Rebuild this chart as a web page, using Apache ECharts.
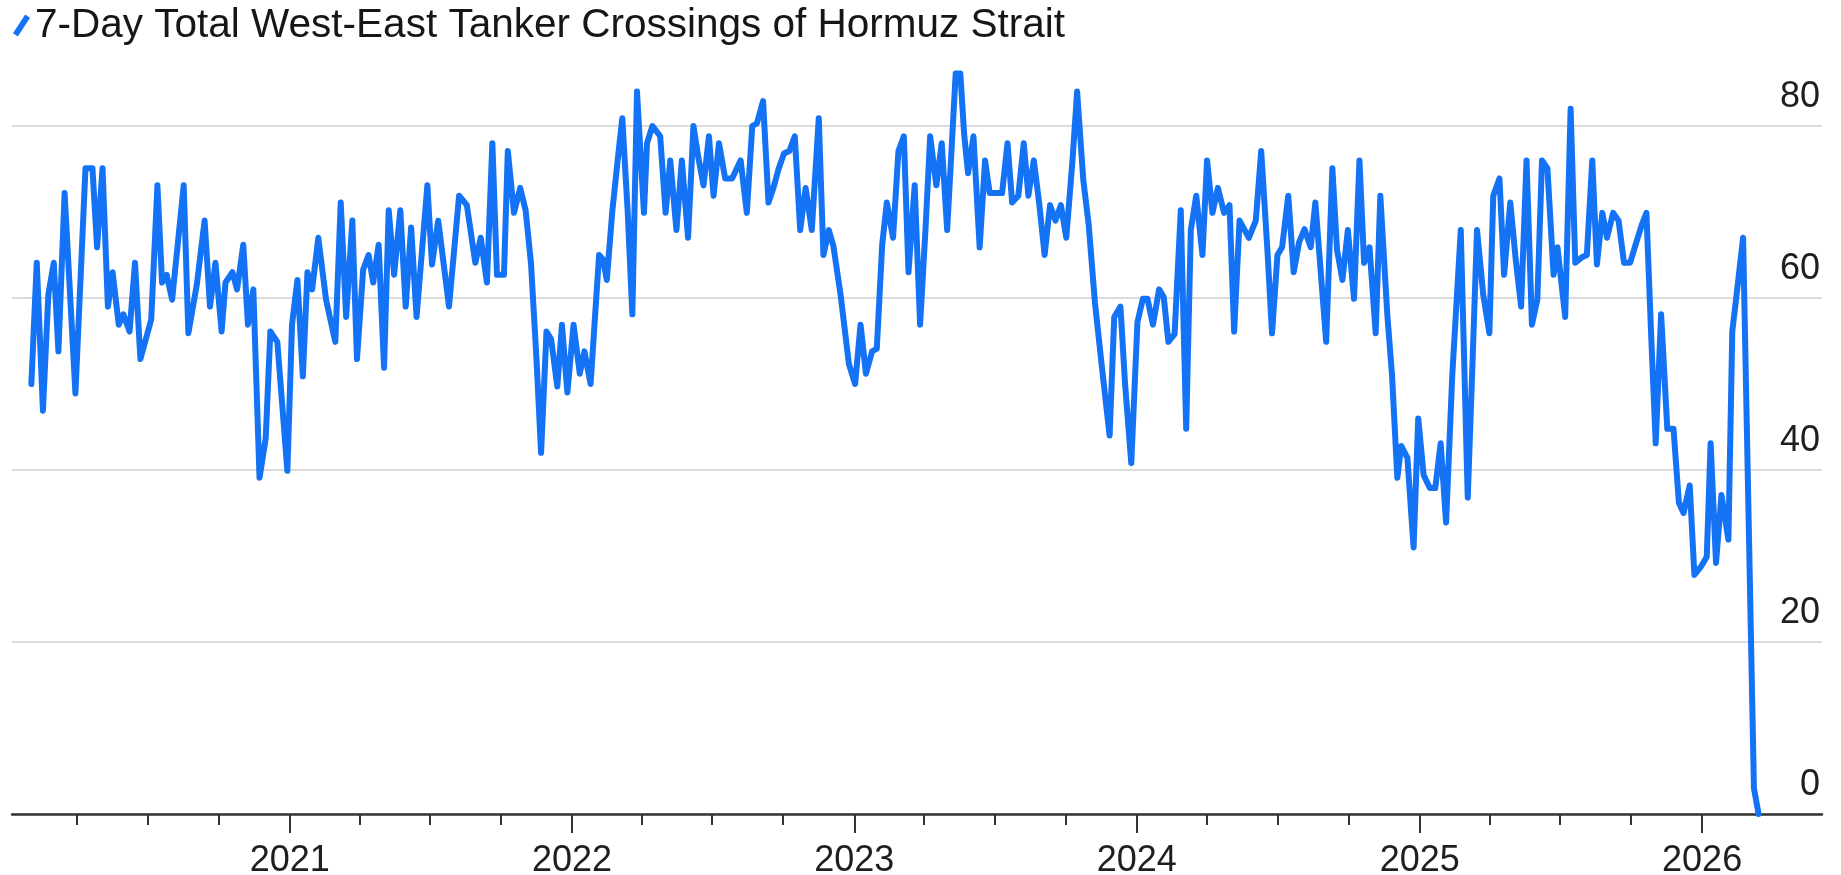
<!DOCTYPE html>
<html>
<head>
<meta charset="utf-8">
<script src="https://cdn.jsdelivr.net/npm/echarts@6/dist/echarts.min.js"></script>
<style>
  html, body { margin: 0; padding: 0; background: #ffffff; }
  #chart { width: 1841px; height: 875px; }
</style>
</head>
<body>
<div id="chart"></div>
<script>
const seriesName = '7-Day Total West-East Tanker Crossings of Hormuz Strait';

const dates = [
 '2020-02-02','2020-02-09','2020-02-17','2020-02-24','2020-03-02','2020-03-08','2020-03-16','2020-03-30','2020-04-12','2020-04-21',
 '2020-04-27','2020-05-04','2020-05-11','2020-05-17','2020-05-25','2020-05-31','2020-06-08','2020-06-15','2020-06-22','2020-07-06',
 '2020-07-14','2020-07-20','2020-07-26','2020-08-02','2020-08-17','2020-08-23','2020-09-03','2020-09-13','2020-09-20','2020-09-27',
 '2020-10-05','2020-10-10','2020-10-19','2020-10-25','2020-11-02','2020-11-08','2020-11-15','2020-11-23','2020-12-01','2020-12-07',
 '2020-12-16','2020-12-29','2021-01-04','2021-01-11','2021-01-18','2021-01-24','2021-01-30','2021-02-07','2021-02-17','2021-03-01',
 '2021-03-08','2021-03-15','2021-03-23','2021-03-29','2021-04-06','2021-04-13','2021-04-19','2021-04-26','2021-05-03','2021-05-09',
 '2021-05-16','2021-05-24','2021-05-31','2021-06-07','2021-06-14','2021-06-28','2021-07-04','2021-07-12','2021-07-26','2021-08-08',
 '2021-08-18','2021-08-29','2021-09-05','2021-09-13','2021-09-20','2021-09-26','2021-10-05','2021-10-10','2021-10-18','2021-10-26',
 '2021-11-02','2021-11-09','2021-11-16','2021-11-22','2021-11-29','2021-12-05','2021-12-13','2021-12-19','2021-12-26','2022-01-03',
 '2022-01-11','2022-01-17','2022-01-25','2022-02-05','2022-02-10','2022-02-15','2022-02-22','2022-03-01','2022-03-07','2022-03-14',
 '2022-03-20','2022-03-26','2022-04-04','2022-04-08','2022-04-15','2022-04-25','2022-05-02','2022-05-08','2022-05-16','2022-05-23',
 '2022-05-31','2022-06-07','2022-06-13','2022-06-20','2022-06-27','2022-07-03','2022-07-10','2022-07-18','2022-07-27','2022-08-07',
 '2022-08-15','2022-08-22','2022-08-28','2022-09-05','2022-09-12','2022-09-19','2022-09-25','2022-10-02','2022-10-09','2022-10-16',
 '2022-10-23','2022-10-30','2022-11-07','2022-11-16','2022-11-22','2022-11-29','2022-12-05','2022-12-14','2022-12-25','2023-01-02',
 '2023-01-09','2023-01-16','2023-01-24','2023-01-30','2023-02-06','2023-02-12','2023-02-20','2023-02-27','2023-03-06','2023-03-12',
 '2023-03-20','2023-03-27','2023-04-03','2023-04-09','2023-04-17','2023-04-24','2023-05-01','2023-05-12','2023-05-18','2023-05-23',
 '2023-05-28','2023-06-04','2023-06-12','2023-06-19','2023-06-25','2023-07-03','2023-07-11','2023-07-18','2023-07-24','2023-08-01',
 '2023-08-08','2023-08-14','2023-08-21','2023-08-28','2023-09-04','2023-09-11','2023-09-18','2023-09-25','2023-10-02','2023-10-10',
 '2023-10-16','2023-10-24','2023-10-31','2023-11-08','2023-11-17','2023-11-27','2023-12-03','2023-12-11','2023-12-17','2023-12-25',
 '2024-01-02','2024-01-09','2024-01-15','2024-01-22','2024-01-30','2024-02-05','2024-02-11','2024-02-19','2024-02-27','2024-03-05',
 '2024-03-11','2024-03-18','2024-03-26','2024-04-01','2024-04-08','2024-04-15','2024-04-23','2024-04-30','2024-05-06','2024-05-13',
 '2024-05-25','2024-06-03','2024-06-10','2024-06-18','2024-06-24','2024-07-01','2024-07-07','2024-07-15','2024-07-22','2024-07-29',
 '2024-08-05','2024-08-13','2024-08-19','2024-08-26','2024-09-02','2024-09-10','2024-09-16','2024-09-23','2024-09-30','2024-10-08',
 '2024-10-15','2024-10-21','2024-10-28','2024-11-05','2024-11-11','2024-11-20','2024-11-26','2024-12-03','2024-12-08','2024-12-16',
 '2024-12-24','2024-12-30','2025-01-06','2025-01-14','2025-01-21','2025-01-28','2025-02-04','2025-02-12','2025-02-23','2025-03-04',
 '2025-03-10','2025-03-16','2025-03-24','2025-04-01','2025-04-06','2025-04-14','2025-04-20','2025-04-28','2025-05-05','2025-05-12',
 '2025-05-19','2025-05-26','2025-06-02','2025-06-08','2025-06-15','2025-06-23','2025-06-28','2025-07-08','2025-07-15','2025-07-21',
 '2025-07-29','2025-08-05','2025-08-12','2025-08-18','2025-08-25','2025-08-31','2025-09-08','2025-09-15','2025-09-22','2025-09-30',
 '2025-10-08','2025-10-15','2025-10-21','2025-10-27','2025-11-02','2025-11-09','2025-11-17','2025-11-25','2025-12-02','2025-12-08',
 '2025-12-16','2025-12-22','2025-12-30','2026-01-07','2026-01-12','2026-01-19','2026-01-26','2026-02-04','2026-02-09','2026-02-16',
 '2026-02-23','2026-03-09','2026-03-15'
];

const crossings = [
 50.0,64.1,46.9,60.4,64.1,53.8,72.2,48.9,75.1,75.1,
 65.9,75.1,59.0,63.0,56.9,58.1,56.1,64.1,52.9,57.5,
 73.1,61.8,62.7,59.8,73.1,55.9,61.6,69.0,59.0,64.1,
 56.1,61.8,63.0,61.0,66.2,56.9,61.0,39.1,43.7,56.1,
 54.9,39.9,56.9,62.1,50.9,63.0,61.0,67.0,59.8,54.9,
 71.1,57.8,69.0,52.9,63.3,65.0,61.8,66.2,51.9,70.2,
 62.7,70.2,59.0,68.2,57.8,73.1,63.9,69.0,59.0,71.9,
 70.8,64.1,67.0,61.8,78.0,62.7,62.7,77.1,69.9,72.8,
 70.2,64.0,53.0,42.0,56.1,55.2,49.7,56.9,49.0,56.9,
 51.2,53.8,50.0,65.0,64.5,62.1,70.0,76.0,80.9,70.0,
 58.1,84.0,69.9,78.0,80.0,78.8,69.9,76.0,67.9,76.0,
 67.0,80.0,76.5,73.1,78.8,71.9,78.0,73.9,73.9,76.0,
 69.9,80.0,80.3,82.9,71.1,73.0,75.0,76.8,77.1,78.8,
 67.9,72.8,67.9,80.9,65.0,67.9,66.0,60.5,52.3,50.0,
 56.9,51.2,53.8,54.1,66.2,71.1,67.0,77.1,78.8,63.0,
 73.1,56.9,68.0,78.8,73.1,78.0,67.9,86.1,86.1,79.0,
 74.5,78.8,65.9,76.0,72.2,72.2,72.2,78.0,71.1,71.9,
 78.0,71.9,76.0,71.0,65.0,70.8,69.0,70.8,67.0,76.0,
 84.0,73.7,68.5,59.5,52.0,44.0,57.8,59.0,50.0,40.8,
 57.2,59.9,59.9,56.9,61.0,60.1,54.9,55.8,70.2,44.8,
 67.9,71.9,65.0,76.0,69.9,72.8,69.9,70.8,56.1,69.0,
 67.0,69.0,77.1,65.6,55.9,65.0,65.9,71.9,63.0,66.5,
 68.0,65.9,71.1,63.0,54.9,75.1,65.6,62.1,67.9,59.9,
 76.0,64.1,65.9,55.9,71.9,58.1,51.2,39.1,42.8,41.4,
 31.0,46.0,39.4,37.9,37.9,43.1,33.9,51.0,67.9,36.8,
 52.0,67.9,60.4,55.9,71.9,73.9,62.7,71.1,64.5,59.0,
 76.0,56.9,59.8,76.0,75.1,62.7,65.9,57.8,82.0,64.1,
 64.7,65.0,76.0,63.9,69.9,67.0,69.9,69.0,64.1,64.1,
 66.5,68.5,69.9,56.0,43.1,58.1,44.8,44.8,36.2,35.0,
 38.2,27.8,28.7,29.9,43.1,29.2,37.1,31.9,56.1,61.5,
 67.0,3.0,0
];

const yearTicks = ['2021-01-01','2022-01-01','2023-01-01','2024-01-01','2025-01-01','2026-01-01'];
const quarterTicks = [
 '2020-04-01','2020-07-01','2020-10-01',
 '2021-04-01','2021-07-01','2021-10-01',
 '2022-04-01','2022-07-01','2022-10-01',
 '2023-04-01','2023-07-01','2023-10-01',
 '2024-04-01','2024-07-01','2024-10-01',
 '2025-04-01','2025-07-01','2025-10-01'
];
const yTicks = [0, 20, 40, 60, 80];

const FONT = "'Liberation Sans', Arial, Helvetica, sans-serif";
const xMin = '2020-01-08';
const xMax = '2026-06-05';

const ts = function (s) { return Date.parse(s + 'T00:00:00Z'); };

const chart = echarts.init(document.getElementById('chart'), null, { renderer: 'canvas' });

chart.setOption({
  animation: false,
  backgroundColor: '#ffffff',
  textStyle: { fontFamily: FONT },
  legend: {
    show: true,
    left: 13,
    top: 5,
    padding: 0,
    itemWidth: 17,
    itemHeight: 26,
    itemGap: 10,
    icon: 'path://M10,0 L14,2.6 L4,18 L0,15.4 Z',
    selectedMode: false,
    textStyle: { fontSize: 40.5, color: '#161616', fontFamily: FONT }
  },
  grid: { left: 12, right: 19, top: 40, bottom: 61, containLabel: false, outerBoundsMode: 'none' },
  xAxis: [
    {
      type: 'value',
      min: ts(xMin),
      max: ts(xMax),
      position: 'bottom',
      axisLine: { show: true, onZero: false, lineStyle: { color: '#333333', width: 2.5 } },
      axisTick: { show: true, length: 11, customValues: quarterTicks.map(ts), lineStyle: { color: '#333333', width: 2 } },
      axisLabel: { show: false },
      splitLine: { show: false }
    },
    {
      type: 'value',
      min: ts(xMin),
      max: ts(xMax),
      position: 'bottom',
      axisLine: { show: false, onZero: false },
      axisTick: { show: true, length: 19, customValues: yearTicks.map(ts), lineStyle: { color: '#333333', width: 2 } },
      axisLabel: {
        show: true,
        customValues: yearTicks.map(ts),
        margin: 29,
        fontSize: 36,
        color: '#1e1e1e',
        fontFamily: FONT,
        formatter: function (v) { return String(new Date(v).getUTCFullYear()); }
      },
      splitLine: { show: false }
    }
  ],
  yAxis: {
    type: 'value',
    position: 'right',
    min: 0,
    max: 90,
    interval: 20,
    axisLine: { show: false },
    axisTick: { show: false },
    axisLabel: {
      inside: true,
      margin: 2,
      fontSize: 36,
      color: '#1e1e1e',
      fontFamily: FONT,
      verticalAlign: 'bottom',
      padding: [0, 0, 11, 0],
      customValues: yTicks
    },
    splitLine: { show: true, showMaxLine: false, lineStyle: { color: '#cfcfcf', width: 1.5 } }
  },
  series: [
    {
      name: seriesName,
      type: 'line',
      xAxisIndex: 0,
      data: dates.map(function (d, i) { return [ts(d), crossings[i]]; }),
      showSymbol: false,
      symbol: 'none',
      clip: false,
      lineStyle: { color: '#1473f5', width: 6, join: 'round', cap: 'round' },
      itemStyle: { color: '#1473f5' },
      z: 3
    }
  ]
});
</script>
</body>
</html>
